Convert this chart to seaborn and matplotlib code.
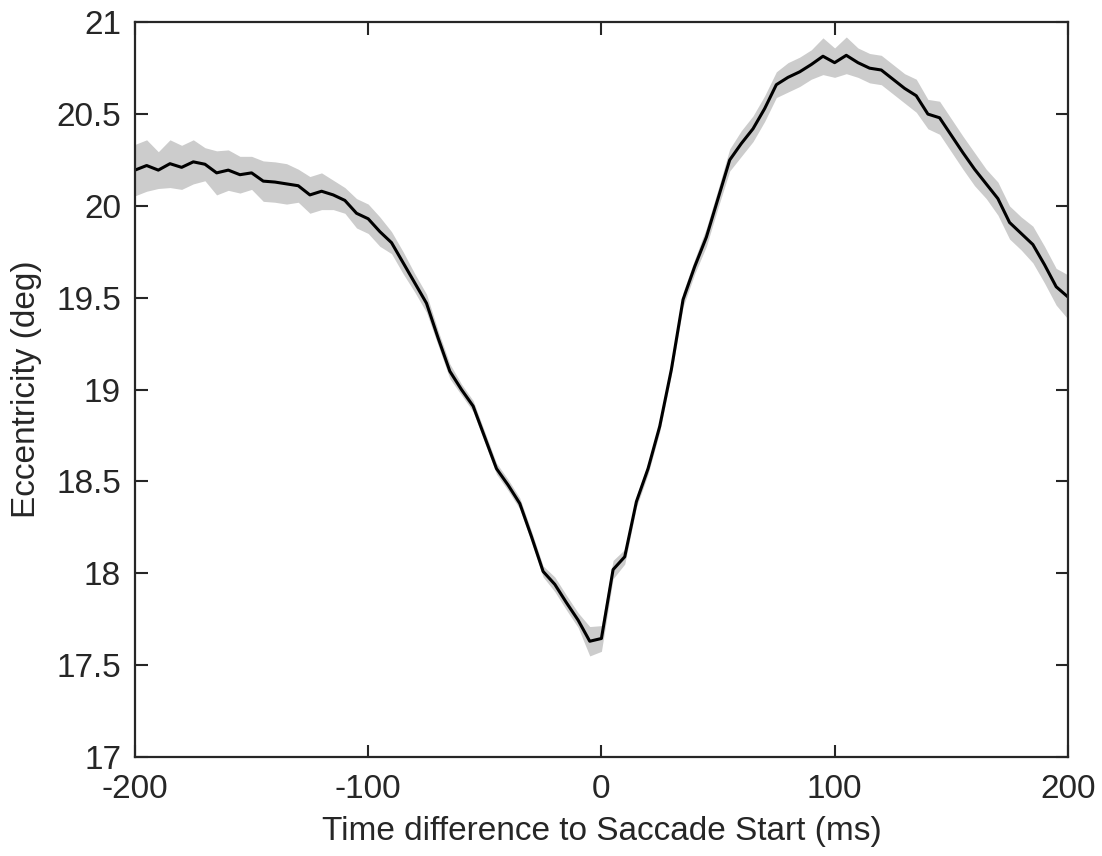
import numpy as np
import pandas as pd
import matplotlib
matplotlib.use("Agg")
import matplotlib.pyplot as plt
import seaborn as sns

# time relative to saccade start (ms), 5 ms bins
time_ms = list(range(-200, 205, 5))

# mean eccentricity (deg)
ecc_mean = [
    20.195, 20.22, 20.195, 20.23, 20.21, 20.24, 20.227, 20.18, 20.195, 20.17,
    20.18, 20.135, 20.13, 20.12, 20.11, 20.06, 20.08, 20.06, 20.03, 19.96,
    19.93, 19.86, 19.80, 19.69, 19.58, 19.47, 19.28, 19.10, 19.00, 18.91,
    18.74, 18.57, 18.48, 18.38, 18.20, 18.01, 17.94, 17.84, 17.745, 17.63,
    17.645, 18.02, 18.09, 18.39, 18.57, 18.80, 19.11, 19.49, 19.67, 19.83,
    20.04, 20.25, 20.34, 20.42, 20.53, 20.66, 20.70, 20.73, 20.77, 20.815,
    20.78, 20.82, 20.78, 20.75, 20.74, 20.69, 20.64, 20.60, 20.50, 20.48,
    20.385, 20.29, 20.20, 20.12, 20.04, 19.91, 19.85, 19.79, 19.68, 19.56,
    19.505,
]

# shaded error half-width (deg)
ecc_err = [
    0.14, 0.14, 0.10, 0.13, 0.12, 0.12, 0.09, 0.12, 0.11, 0.10,
    0.09, 0.11, 0.11, 0.11, 0.09, 0.10, 0.10, 0.08, 0.07, 0.08,
    0.08, 0.08, 0.06, 0.06, 0.05, 0.05, 0.04, 0.04, 0.03, 0.03,
    0.03, 0.03, 0.03, 0.03, 0.03, 0.03, 0.04, 0.04, 0.04, 0.08,
    0.07, 0.05, 0.04, 0.03, 0.03, 0.03, 0.03, 0.04, 0.04, 0.05,
    0.05, 0.06, 0.07, 0.07, 0.07, 0.07, 0.08, 0.08, 0.08, 0.10,
    0.08, 0.10, 0.08, 0.08, 0.08, 0.08, 0.08, 0.09, 0.08, 0.09,
    0.09, 0.09, 0.09, 0.08, 0.09, 0.09, 0.09, 0.10, 0.10, 0.10,
    0.12,
]

df = pd.DataFrame({"t": time_ms, "ecc": ecc_mean, "err": ecc_err})

sns.set_style("white")
plt.rcParams["font.family"] = ["Liberation Sans", "DejaVu Sans"]
plt.rcParams["axes.unicode_minus"] = False
text_col = "#262626"

fig = plt.figure(figsize=(11.02, 8.56), dpi=100)
ax = fig.add_axes([0.1225, 0.1157, 0.8465, 0.8583])

ax.fill_between(df["t"], df["ecc"] - df["err"], df["ecc"] + df["err"],
                color="#cccccc", linewidth=0, zorder=1)
sns.lineplot(data=df, x="t", y="ecc", color="black", linewidth=2.2, ax=ax, zorder=2)

ax.set_xlim(-200, 200)
ax.set_ylim(17, 21)
ax.set_xticks([-200, -100, 0, 100, 200])
ax.set_yticks([17, 17.5, 18, 18.5, 19, 19.5, 20, 20.5, 21])
ax.set_yticklabels(["17", "17.5", "18", "18.5", "19", "19.5", "20", "20.5", "21"])

ax.tick_params(direction="in", length=9, width=1.5, colors=text_col,
               labelsize=24, top=True, right=True, bottom=True, left=True)
ax.tick_params(axis="x", pad=12)
ax.tick_params(axis="y", pad=10)
for s in ax.spines.values():
    s.set_visible(True)
    s.set_color(text_col)
    s.set_linewidth(1.6)

ax.set_xlabel("Time difference to Saccade Start (ms)", fontsize=24, color=text_col, labelpad=8)
ax.set_ylabel("Eccentricity (deg)", fontsize=24, color=text_col, labelpad=10)

fig.savefig("out.png", dpi=100)
